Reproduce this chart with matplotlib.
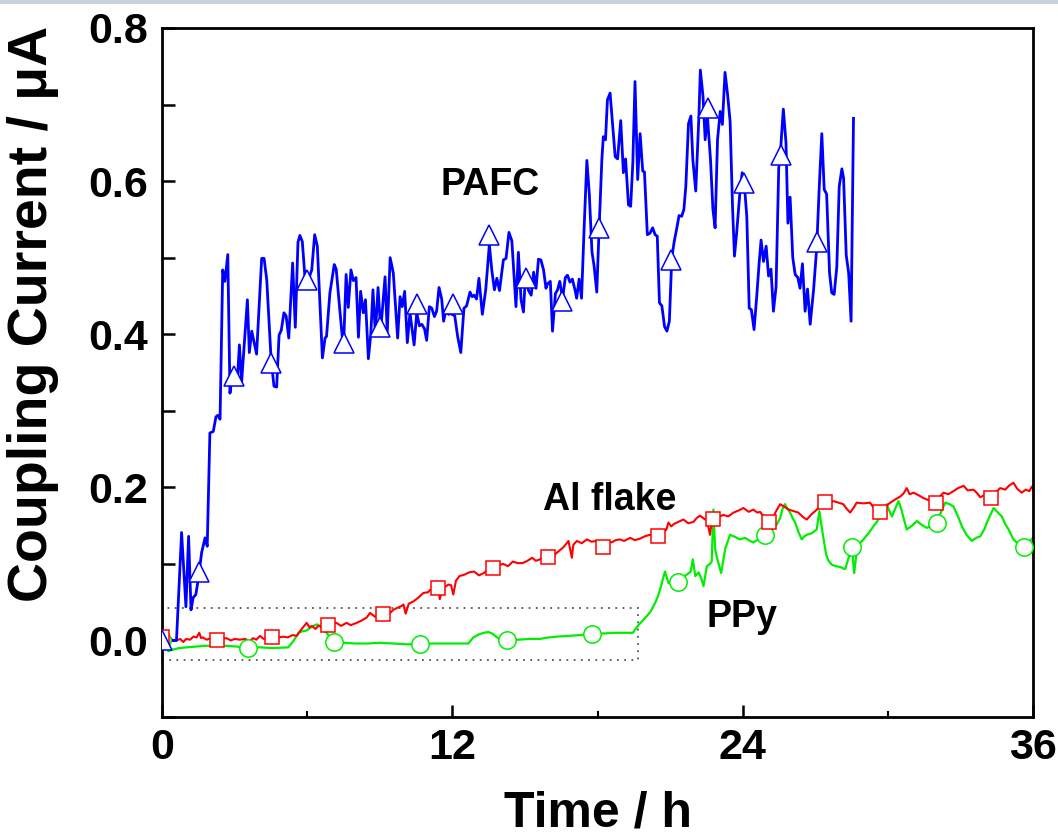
import matplotlib
matplotlib.use("Agg")
import matplotlib.pyplot as plt
import numpy as np
from matplotlib.patches import Rectangle

plt.rcParams['font.family'] = ['Liberation Sans', 'DejaVu Sans']
plt.rcParams['font.weight'] = 'bold'

# coupling current (uA) vs time (h), pairs of (t, I)
pafc = [(0.0, 0.0), (0.3, 0.0), (0.6, 0.0), (0.81, 0.141), (0.99, 0.044), (1.10, 0.136), (1.20, 0.040),
        (1.29, 0.056), (1.40, 0.060), (1.50, 0.080), (1.64, 0.115), (1.78, 0.134), (1.87, 0.123), (1.98, 0.271),
        (2.12, 0.273), (2.23, 0.292), (2.30, 0.294), (2.40, 0.289), (2.51, 0.484), (2.60, 0.469), (2.72, 0.504),
        (2.81, 0.323), (2.88, 0.340), (3.11, 0.337), (3.20, 0.386), (3.29, 0.337), (3.53, 0.445), (3.61, 0.376),
        (3.71, 0.404), (3.91, 0.374), (4.12, 0.499), (4.22, 0.499), (4.33, 0.471), (4.51, 0.367), (4.63, 0.332),
        (4.74, 0.331), (4.84, 0.399), (4.93, 0.405), (5.04, 0.428), (5.13, 0.424), (5.24, 0.395), (5.40, 0.493),
        (5.51, 0.409), (5.62, 0.520), (5.70, 0.529), (5.80, 0.521), (5.94, 0.461), (6.19, 0.484), (6.31, 0.530),
        (6.42, 0.515), (6.63, 0.369), (6.74, 0.395), (6.80, 0.397), (6.94, 0.454), (7.12, 0.491), (7.20, 0.485),
        (7.36, 0.428), (7.50, 0.380), (7.61, 0.478), (7.70, 0.435), (7.81, 0.484), (7.91, 0.470), (8.02, 0.474),
        (8.12, 0.396), (8.21, 0.456), (8.32, 0.428), (8.41, 0.445), (8.53, 0.368), (8.63, 0.400), (8.72, 0.458),
        (8.82, 0.400), (8.93, 0.461), (9.04, 0.405), (9.22, 0.475), (9.31, 0.402), (9.43, 0.500), (9.56, 0.480),
        (9.74, 0.395), (9.84, 0.449), (9.93, 0.436), (10.03, 0.456), (10.14, 0.389), (10.25, 0.428), (10.42, 0.386),
        (10.53, 0.428), (10.64, 0.411), (10.74, 0.413), (10.85, 0.407), (10.94, 0.392), (11.05, 0.436),
        (11.15, 0.434), (11.26, 0.423), (11.35, 0.430), (11.45, 0.461), (11.56, 0.446), (11.64, 0.417),
        (11.74, 0.432), (11.85, 0.426), (11.93, 0.427), (12.10, 0.424), (12.22, 0.397), (12.35, 0.376),
        (12.48, 0.434), (12.59, 0.437), (12.73, 0.455), (12.82, 0.449), (12.90, 0.451), (13.00, 0.446),
        (13.10, 0.473), (13.24, 0.426), (13.38, 0.458), (13.53, 0.517), (13.63, 0.484), (13.74, 0.458),
        (13.84, 0.473), (13.95, 0.457), (14.11, 0.497), (14.22, 0.499), (14.34, 0.533), (14.46, 0.522),
        (14.63, 0.436), (14.73, 0.507), (14.84, 0.445), (14.94, 0.429), (15.02, 0.476), (15.15, 0.457),
        (15.26, 0.451), (15.36, 0.481), (15.46, 0.460), (15.56, 0.498), (15.66, 0.497), (15.77, 0.484),
        (15.87, 0.460), (15.94, 0.466), (16.05, 0.469), (16.14, 0.404), (16.26, 0.453), (16.35, 0.458),
        (16.44, 0.469), (16.56, 0.447), (16.67, 0.474), (16.76, 0.477), (16.86, 0.468), (16.96, 0.472),
        (17.07, 0.458), (17.14, 0.447), (17.24, 0.472), (17.34, 0.447), (17.45, 0.541), (17.56, 0.627),
        (17.66, 0.584), (17.77, 0.508), (17.86, 0.489), (17.97, 0.455), (18.06, 0.533), (18.18, 0.628),
        (18.24, 0.658), (18.33, 0.654), (18.41, 0.706), (18.52, 0.715), (18.61, 0.679), (18.73, 0.632),
        (18.83, 0.629), (18.96, 0.679), (19.07, 0.611), (19.16, 0.629), (19.28, 0.569), (19.37, 0.567),
        (19.46, 0.624), (19.55, 0.730), (19.66, 0.602), (19.76, 0.662), (19.87, 0.613), (19.94, 0.612),
        (20.06, 0.530), (20.17, 0.532), (20.28, 0.539), (20.38, 0.530), (20.47, 0.528), (20.56, 0.441),
        (20.66, 0.437), (20.77, 0.410), (20.87, 0.404), (20.97, 0.417), (21.07, 0.500), (21.17, 0.521),
        (21.28, 0.539), (21.37, 0.555), (21.48, 0.554), (21.57, 0.563), (21.65, 0.593), (21.76, 0.675),
        (21.86, 0.685), (21.94, 0.628), (22.06, 0.587), (22.19, 0.684), (22.25, 0.745), (22.36, 0.711),
        (22.45, 0.654), (22.54, 0.686), (22.67, 0.628), (22.77, 0.563), (22.86, 0.539), (22.96, 0.654),
        (23.07, 0.691), (23.16, 0.674), (23.27, 0.742), (23.37, 0.715), (23.48, 0.678), (23.58, 0.567),
        (23.66, 0.502), (23.75, 0.532), (23.89, 0.587), (23.98, 0.611), (24.09, 0.587), (24.17, 0.554),
        (24.27, 0.434), (24.36, 0.432), (24.47, 0.406), (24.58, 0.449), (24.68, 0.493), (24.76, 0.523),
        (24.86, 0.495), (24.97, 0.515), (25.07, 0.476), (25.17, 0.485), (25.27, 0.430), (25.38, 0.462),
        (25.49, 0.617), (25.58, 0.647), (25.68, 0.694), (25.79, 0.650), (25.87, 0.545), (25.96, 0.579),
        (26.07, 0.500), (26.17, 0.478), (26.28, 0.474), (26.37, 0.460), (26.47, 0.492), (26.58, 0.430),
        (26.68, 0.459), (26.79, 0.413), (26.93, 0.458), (27.06, 0.513), (27.16, 0.589), (27.27, 0.662),
        (27.37, 0.589), (27.47, 0.583), (27.59, 0.480), (27.68, 0.454), (27.78, 0.452), (27.89, 0.488),
        (27.99, 0.593), (28.10, 0.616), (28.17, 0.604), (28.28, 0.503), (28.38, 0.480), (28.48, 0.417),
        (28.58, 0.682)]

al_flake = [(0.0, 0.006), (0.05, 0.008), (0.2, 0.003), (0.33, 0.004), (0.45, 0.000), (0.61, 0.0), (0.75, 0.002),
            (0.88, -0.002), (1.0, 0.002), (1.16, 0.001), (1.3, 0.005), (1.43, 0.004), (1.54, 0.010), (1.62, 0.003),
            (1.68, 0.004), (1.85, 0.001), (2.0, 0.003), (2.15, 0.000), (2.4, 0.002), (2.67, 0.003), (2.85, 0.000),
            (3.0, 0.002), (3.22, 0.001), (3.45, 0.002), (3.6, -0.001), (3.77, 0.003), (3.9, 0.001), (4.05, 0.006),
            (4.2, 0.002), (4.4, 0.004), (4.7, 0.003), (5.0, 0.005), (5.2, 0.004), (5.4, 0.007), (5.57, 0.006),
            (5.7, 0.012), (5.85, 0.018), (5.98, 0.023), (6.1, 0.017), (6.19, 0.019), (6.35, 0.015), (6.46, 0.019),
            (6.65, 0.018), (6.85, 0.020), (7.0, 0.022), (7.21, 0.023), (7.4, 0.019), (7.63, 0.023), (7.8, 0.020),
            (8.05, 0.023), (8.25, 0.026), (8.46, 0.030), (8.6, 0.036), (8.8, 0.031), (9.0, 0.034), (9.25, 0.037),
            (9.4, 0.035), (9.56, 0.040), (9.75, 0.043), (9.9, 0.045), (9.98, 0.047), (10.07, 0.035), (10.2, 0.048),
            (10.39, 0.051), (10.6, 0.056), (10.8, 0.062), (11.0, 0.063), (11.08, 0.066), (11.25, 0.068),
            (11.42, 0.069), (11.48, 0.054), (11.6, 0.068), (11.84, 0.073), (11.95, 0.072), (12.04, 0.060),
            (12.15, 0.078), (12.29, 0.084), (12.5, 0.086), (12.7, 0.089), (12.9, 0.090), (13.1, 0.085),
            (13.3, 0.088), (13.5, 0.093), (13.7, 0.095), (13.9, 0.098), (14.1, 0.100), (14.3, 0.097),
            (14.5, 0.103), (14.7, 0.101), (14.9, 0.101), (15.1, 0.104), (15.3, 0.108), (15.45, 0.104),
            (15.63, 0.106), (15.77, 0.112), (15.97, 0.108), (16.18, 0.110), (16.3, 0.114), (16.45, 0.118),
            (16.6, 0.122), (16.8, 0.130), (16.94, 0.108), (17.0, 0.125), (17.15, 0.130), (17.35, 0.127),
            (17.56, 0.132), (17.75, 0.129), (17.97, 0.130), (18.1, 0.126), (18.24, 0.124), (18.4, 0.130),
            (18.58, 0.128), (18.75, 0.131), (18.93, 0.132), (19.1, 0.130), (19.35, 0.134), (19.55, 0.131),
            (19.76, 0.133), (19.95, 0.136), (20.17, 0.138), (20.3, 0.137), (20.45, 0.142), (20.6, 0.138),
            (20.72, 0.141), (20.85, 0.145), (20.93, 0.154), (21.05, 0.149), (21.15, 0.152), (21.35, 0.155),
            (21.55, 0.158), (21.75, 0.153), (21.97, 0.155), (22.1, 0.160), (22.24, 0.163), (22.4, 0.159),
            (22.52, 0.157), (22.65, 0.138), (22.72, 0.156), (22.79, 0.159), (23.0, 0.161), (23.2, 0.164),
            (23.4, 0.162), (23.62, 0.167), (23.85, 0.170), (24.03, 0.173), (24.25, 0.168), (24.44, 0.171),
            (24.6, 0.167), (24.72, 0.168), (24.9, 0.160), (25.1, 0.156), (25.27, 0.162), (25.4, 0.170),
            (25.55, 0.178), (25.7, 0.175), (25.9, 0.171), (26.1, 0.169), (26.3, 0.167), (26.5, 0.161),
            (26.65, 0.158), (26.85, 0.165), (27.07, 0.171), (27.25, 0.179), (27.41, 0.181), (27.6, 0.180),
            (27.75, 0.182), (27.95, 0.180), (28.16, 0.178), (28.3, 0.172), (28.44, 0.167), (28.6, 0.174),
            (28.71, 0.180), (29.0, 0.179), (29.26, 0.180), (29.45, 0.172), (29.68, 0.168), (29.9, 0.175),
            (30.1, 0.180), (30.3, 0.184), (30.51, 0.188), (30.65, 0.192), (30.78, 0.199), (30.9, 0.191),
            (31.06, 0.193), (31.25, 0.190), (31.47, 0.186), (31.7, 0.183), (31.98, 0.180), (32.15, 0.188),
            (32.3, 0.193), (32.5, 0.191), (32.71, 0.195), (32.9, 0.199), (33.13, 0.202), (33.3, 0.196),
            (33.54, 0.197), (33.7, 0.192), (33.82, 0.187), (34.0, 0.190), (34.26, 0.186), (34.45, 0.193),
            (34.64, 0.199), (34.85, 0.197), (35.0, 0.202), (35.19, 0.206), (35.35, 0.198), (35.53, 0.193),
            (35.7, 0.197), (35.85, 0.195), (35.95, 0.201), (36.0, 0.198)]

ppy = [(0.0, -0.003), (0.15, -0.004), (0.26, -0.014), (0.45, -0.012), (0.7, -0.010), (1.02, -0.009),
       (1.4, -0.008), (1.72, -0.007), (2.2, -0.007), (2.67, -0.007), (3.1, -0.008), (3.54, -0.010),
       (4.05, -0.009), (4.6, -0.010), (5.22, -0.009), (5.45, 0.000), (5.64, 0.010), (5.8, 0.012), (5.98, 0.013),
       (6.1, 0.016), (6.25, 0.019), (6.4, 0.021), (6.53, 0.019), (6.65, 0.014), (6.8, 0.010), (6.95, 0.004),
       (7.11, -0.002), (7.5, -0.003), (8.0, -0.004), (8.5, -0.004), (9.0, -0.003), (9.56, -0.004),
       (10.1, -0.005), (10.67, -0.005), (11.2, -0.004), (11.63, -0.004), (12.0, -0.004), (12.3, -0.004),
       (12.66, -0.004), (12.87, 0.004), (13.1, 0.008), (13.3, 0.010), (13.49, 0.011), (13.65, 0.009),
       (13.85, 0.004), (14.05, 0.000), (14.25, 0.000), (14.7, 0.001), (15.2, 0.002), (15.6, 0.002),
       (16.0, 0.004), (16.3, 0.005), (16.8, 0.006), (17.3, 0.007), (17.79, 0.009), (18.2, 0.009),
       (18.7, 0.010), (19.1, 0.010), (19.46, 0.010), (19.69, 0.020), (19.9, 0.027), (20.04, 0.032),
       (20.2, 0.038), (20.38, 0.049), (20.5, 0.058), (20.59, 0.067), (20.7, 0.080), (20.79, 0.090),
       (20.93, 0.075), (21.07, 0.079), (21.2, 0.076), (21.34, 0.077), (21.5, 0.082), (21.69, 0.086),
       (21.85, 0.090), (21.94, 0.106), (22.04, 0.084), (22.18, 0.089), (22.3, 0.080), (22.38, 0.071),
       (22.52, 0.097), (22.65, 0.100), (22.72, 0.103), (22.79, 0.171), (22.86, 0.120), (22.93, 0.109),
       (23.11, 0.088), (23.28, 0.120), (23.48, 0.138), (23.7, 0.135), (23.89, 0.132), (24.1, 0.134),
       (24.3, 0.130), (24.44, 0.128), (24.7, 0.133), (24.93, 0.138), (25.1, 0.142), (25.27, 0.147),
       (25.42, 0.152), (25.55, 0.160), (25.65, 0.172), (25.75, 0.178), (25.85, 0.172), (25.96, 0.167),
       (26.06, 0.160), (26.17, 0.154), (26.3, 0.142), (26.44, 0.132), (26.55, 0.136), (26.65, 0.138),
       (26.85, 0.140), (27.06, 0.145), (27.17, 0.169), (27.30, 0.141), (27.45, 0.112), (27.55, 0.104),
       (27.68, 0.099), (27.85, 0.097), (28.03, 0.096), (28.23, 0.093), (28.4, 0.110), (28.51, 0.122),
       (28.61, 0.088), (28.72, 0.119), (28.85, 0.127), (28.99, 0.132), (29.2, 0.140), (29.40, 0.149),
       (29.55, 0.155), (29.68, 0.162), (29.8, 0.170), (29.96, 0.178), (30.05, 0.170), (30.17, 0.162),
       (30.3, 0.172), (30.44, 0.182), (30.55, 0.172), (30.65, 0.160), (30.78, 0.145), (31.0, 0.150),
       (31.2, 0.156), (31.4, 0.151), (31.61, 0.147), (31.8, 0.150), (32.02, 0.154), (32.2, 0.168),
       (32.37, 0.180), (32.55, 0.178), (32.71, 0.175), (32.9, 0.162), (33.06, 0.149), (33.25, 0.138),
       (33.47, 0.130), (33.65, 0.134), (33.82, 0.136), (34.0, 0.146), (34.09, 0.154), (34.25, 0.165),
       (34.37, 0.173), (34.55, 0.167), (34.71, 0.162), (34.85, 0.152), (34.99, 0.145), (35.19, 0.132),
       (35.4, 0.126), (35.61, 0.122), (35.8, 0.128), (36.0, 0.134)]

# symbol points on each curve
pafc_sym = [(0.0, 0.0), (1.53, 0.090), (2.98, 0.345), (4.49, 0.363), (6.01, 0.471), (7.52, 0.389),
            (9.01, 0.410), (10.53, 0.439), (12.04, 0.439), (13.53, 0.530), (15.05, 0.474), (16.55, 0.443),
            (18.07, 0.539), (21.04, 0.497), (22.56, 0.695), (24.06, 0.597), (25.58, 0.634), (27.06, 0.521)]
al_sym = [(0.0, 0.004), (2.26, 0.000), (4.56, 0.004), (6.85, 0.020), (9.13, 0.034), (11.40, 0.069),
          (13.68, 0.095), (15.97, 0.109), (18.24, 0.122), (20.52, 0.136), (22.79, 0.159), (25.10, 0.155),
          (27.41, 0.181), (29.68, 0.168), (31.98, 0.180), (34.26, 0.186)]
ppy_sym = [(0.0, 0.0), (3.54, -0.010), (7.11, -0.002), (10.67, -0.005), (14.25, 0.000), (17.79, 0.009),
           (21.34, 0.077), (24.93, 0.138), (28.51, 0.122), (32.02, 0.154), (35.61, 0.122)]

# dotted zoom box around the early part
box_t = (0.0, 19.67)
box_i = (-0.026, 0.042)

fig = plt.figure(figsize=(10.58, 8.35), dpi=100)
ax = fig.add_axes([0.1531, 0.1413, 0.8233, 0.8252])

# thin grey strip along the top edge
fig.add_artist(Rectangle((0, 1 - 4 / 835), 1, 4 / 835, transform=fig.transFigure,
                         color='#c9d2d9', lw=0, zorder=0))

series = [(ppy, ppy_sym, '#00ee00', 'o', 12.5, 1.6),
          (al_flake, al_sym, '#ff0000', 's', 10.5, 1.5),
          (pafc, pafc_sym, '#0000ff', '^', 15, 2.0)]
for data, sym, col, mk, ms, lw in series:
    t, i = np.array(data).T
    ax.plot(t, i, '-', color=col, lw=lw, zorder=2)
for data, sym, col, mk, ms, lw in series:
    st, si = np.array(sym).T
    ax.plot(st, si, ls='none', marker=mk, ms=ms, mfc='white', mec=col, mew=1.1, zorder=4)

ax.add_patch(Rectangle((box_t[0], box_i[0]), box_t[1] - box_t[0], box_i[1] - box_i[0],
                       fill=False, ls=(0, (1, 3)), lw=1.3, ec='#555555', zorder=1))

ax.text(13.56, 0.582, 'PAFC', fontsize=27, fontweight='bold', ha='center', va='baseline')
ax.text(18.52, 0.171, 'Al flake', fontsize=27, fontweight='bold', ha='center', va='baseline')
ax.text(23.98, 0.018, 'PPy', fontsize=27, fontweight='bold', ha='center', va='baseline')

ax.set_xlim(0, 36)
ax.set_ylim(-0.1, 0.8)
ax.set_xticks([0, 12, 24, 36])
ax.set_xticks([6, 18, 30], minor=True)
ax.set_yticks([0.0, 0.2, 0.4, 0.6, 0.8])
ax.set_yticks([-0.1, 0.1, 0.3, 0.5, 0.7], minor=True)
ax.set_yticklabels(['0.0', '0.2', '0.4', '0.6', '0.8'])

for s in ax.spines.values():
    s.set_linewidth(2.0)
ax.tick_params(axis='both', which='major', direction='in', length=9, width=1.8, labelsize=31, pad=8)
ax.tick_params(axis='x', which='minor', direction='in', length=4.5, width=1.5)
ax.tick_params(axis='y', which='minor', direction='in', length=9, width=1.8)
ax.tick_params(axis='y', which='major', pad=10)
for lab in ax.get_xticklabels() + ax.get_yticklabels():
    lab.set_fontweight('bold')

fig.text(33 / 1058, 1 - 314 / 835, 'Coupling Current / \u03bcA', rotation=90, fontsize=40,
         fontweight='bold', ha='center', va='center')
fig.text(597.5 / 1058, 1 - 826 / 835, 'Time / h', fontsize=36, fontweight='bold',
         ha='center', va='baseline')

fig.savefig('out.png', dpi=100)
